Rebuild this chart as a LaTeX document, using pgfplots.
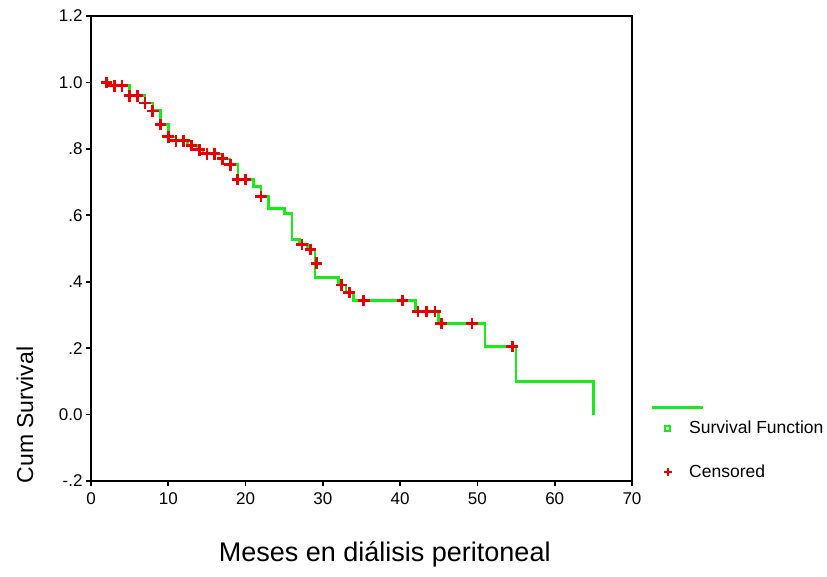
\documentclass[border=0pt]{standalone}
\usepackage{pgfplots}
\pgfplotsset{compat=1.18}
\usepackage{fontspec}
\setmainfont{Liberation Sans}
\definecolor{kmgreen}{RGB}{25,235,25}
\definecolor{kmred}{RGB}{228,0,0}
\begin{document}
\begin{tikzpicture}[x=1pt,y=1pt]
\useasboundingbox (-91,-95) rectangle (736,481);
\begin{axis}[
  at={(0,0)}, anchor=south west, scale only axis,
  width=541pt, height=465pt,
  xmin=0, xmax=70, ymin=-0.2, ymax=1.2,
  xtick={0,10,...,70},
  ytick={-0.2,0,0.2,0.4,0.6,0.8,1.0,1.2},
  yticklabels={-.2,0.0,.2,.4,.6,.8,1.0,1.2},
  tick align=outside, xtick pos=bottom, ytick pos=left,
  major tick length=5pt,
  axis line style={line width=2.2pt},
  every tick/.style={black, line width=1.6pt},
  tick label style={font=\fontsize{17}{19}\selectfont},
  xticklabel style={yshift=-3pt},
  /pgf/number format/assume math mode=true,
  xlabel={Meses en diálisis peritoneal},
  ylabel={Cum Survival},
  xlabel style={at={(axis description cs:0.543,-0.157)}, anchor=center, font=\fontsize{27}{30}\selectfont},
  ylabel style={at={(axis description cs:-0.122,0.142)}, anchor=center, font=\fontsize{23}{26}\selectfont},
  legend style={at={(axis description cs:1.0518,0.1677)}, anchor=north west, draw=none, fill=none, inner sep=0pt,
    font=\fontsize{17.5}{20}\selectfont, row sep=0pt,
    nodes={inner sep=0pt, anchor=west}},
  legend cell align=left,
  clip=false,
]
\addplot[kmgreen, line width=2.6pt, const plot, forget plot] coordinates {
(2,1.0) (2.5,0.99) (5,0.96) (7,0.938) (8,0.916) (9,0.873) (10,0.836)
(11,0.824) (12.5,0.81) (13.8,0.797) (14.5,0.785) (17,0.77) (18,0.753)
(19,0.708) (21,0.687) (22,0.656) (23,0.62) (25,0.605) (26,0.528)
(27,0.513) (28,0.498) (29,0.413) (32,0.39) (33,0.367) (34,0.343)
(42,0.31) (45,0.274) (51,0.205) (55,0.1) (65,0.1) (65,0.0)
};
\addlegendimage{legend image code/.code={\path[draw=none,fill=none] (0pt,-4pt) rectangle (29pt,4pt); \draw[overlay, kmgreen, line width=2.6pt] (-8pt,0pt) -- (43pt,0pt);}}
\addlegendentry{}
\addlegendimage{legend image code/.code={\path[draw=none,fill=none] (0pt,-11pt) rectangle (29pt,17pt); \draw[kmgreen, line width=2pt, mark=square, mark size=2.6pt] plot coordinates {(7pt,0pt)};}}
\addlegendentry{Survival Function}
\addplot[only marks, mark=+, kmred, mark size=5.8pt, line width=2.8pt,
  legend image code/.code={\path[draw=none,fill=none] (0pt,-30pt) rectangle (29pt,33pt); \draw[kmred, line width=2.4pt, mark=+, mark size=4pt] plot coordinates {(8pt,0pt)};}] coordinates {
(2,1.0) (3,0.99) (4,0.99) (5,0.96) (6,0.96) (7,0.938) (8,0.914) (9,0.873)
(10,0.836) (11,0.824) (12,0.824) (13,0.81) (14,0.797) (15,0.785) (16,0.785)
(17,0.77) (18,0.752) (19,0.708) (20,0.708) (22,0.656) (27.3,0.512)
(28.4,0.497) (29.2,0.456) (32.4,0.39) (33.4,0.367) (35.3,0.343) (40.3,0.343)
(42.3,0.31) (43.4,0.31) (44.5,0.31) (45.3,0.274) (49.3,0.274) (54.5,0.205)
};
\addlegendentry{Censored}
\end{axis}
\end{tikzpicture}
\end{document}
